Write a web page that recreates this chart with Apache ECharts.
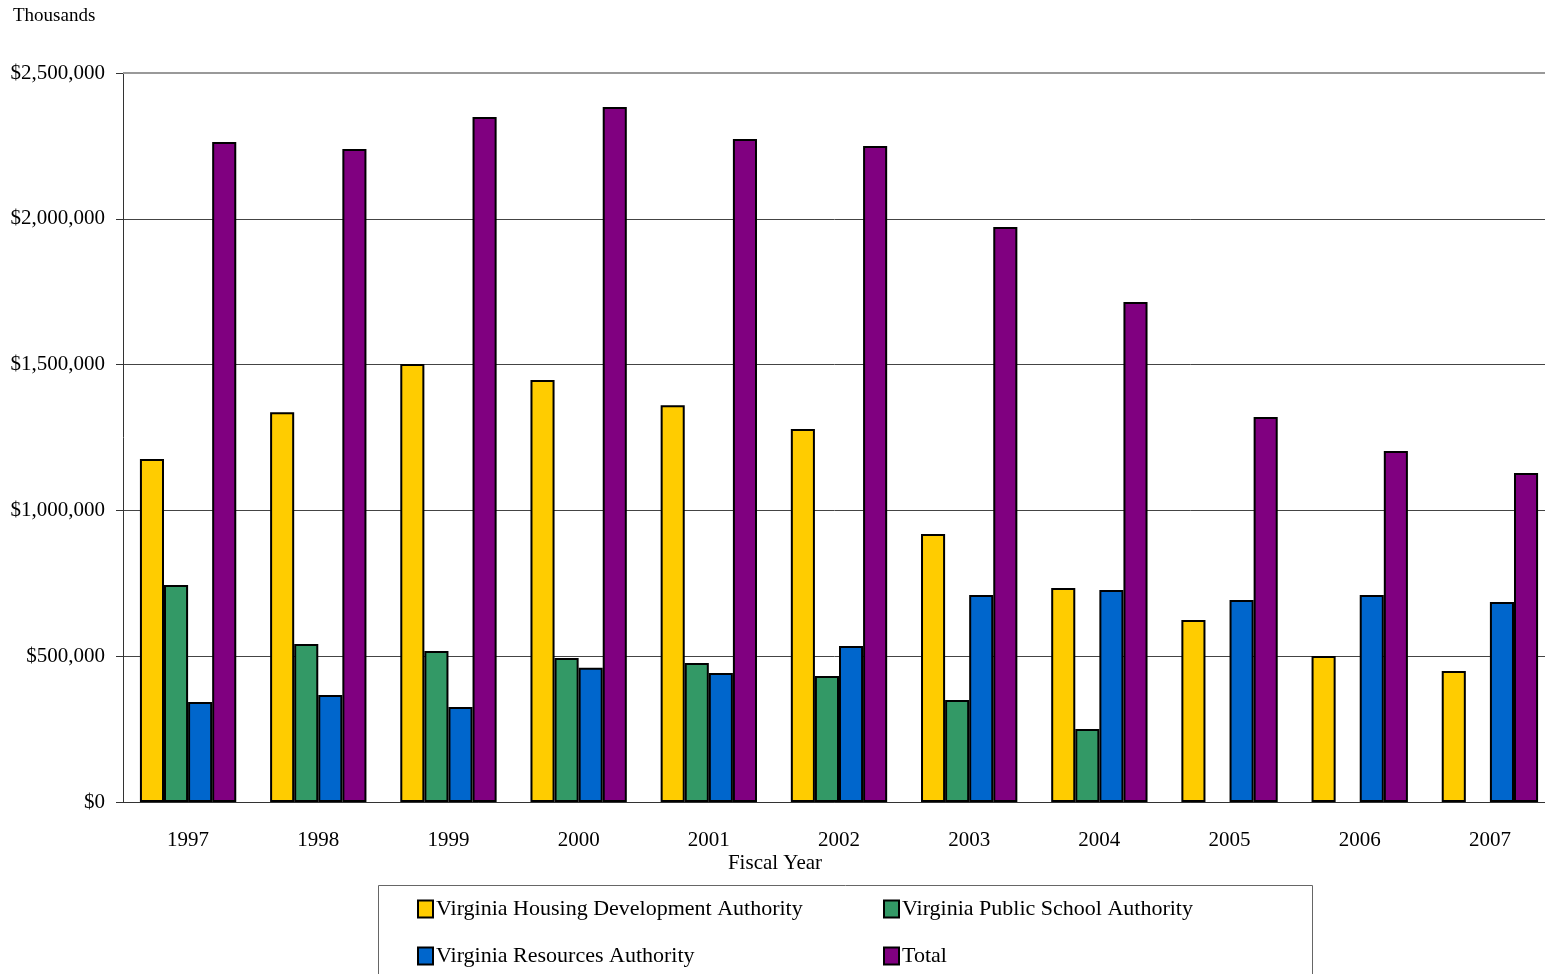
<!DOCTYPE html>
<html>
<head>
<meta charset="utf-8">
<title>Debt issued by Virginia authorities</title>
<script src="https://cdn.jsdelivr.net/npm/echarts@6/dist/echarts.min.js"></script>
<style>
  html, body { margin: 0; padding: 0; background: #fff; }
  #chart { width: 1545px; height: 974px; }
</style>
</head>
<body>
<div id="chart"></div>
<script>
// fiscal years
var years = ['1997', '1998', '1999', '2000', '2001', '2002', '2003', '2004', '2005', '2006', '2007'];
// values in thousands of dollars
var housing = [1176000, 1337000, 1502000, 1447000, 1361000, 1279000, 919000, 734000, 624000, 501000, 449000];
var publicSchool = [744000, 542000, 518000, 494000, 477000, 432000, 350000, 250000, null, null, null];
var resources = [343000, 367000, 326000, 460000, 442000, 535000, 710000, 727000, 693000, 710000, 686000];
var total = [2263000, 2239000, 2349000, 2383000, 2274000, 2250000, 1972000, 1715000, 1320000, 1204000, 1128000];

var seriesNames = ['Virginia Housing Development Authority', 'Virginia Public School Authority',
  'Virginia Resources Authority', 'Total'];
var colors = ['#ffcc00', '#339966', '#0066cc', '#800080'];

var font = 'Liberation Serif, Times New Roman, serif';

function money(v) {
  return '$' + v.toString().replace(/\B(?=(\d{3})+(?!\d))/g, ',');
}

function bar(name, data, i) {
  return {
    name: name,
    type: 'bar',
    data: data,
    barGap: 0,
    barCategoryGap: '26%',
    itemStyle: { color: colors[i], borderColor: '#000', borderWidth: 2 },
    emphasis: { disabled: true }
  };
}

// one legend block per entry, laid out in two columns
function legendItem(name, left, top) {
  return {
    data: [name],
    left: left, top: top,
    icon: 'rect',
    itemWidth: 15, itemHeight: 17, itemGap: 0,
    selectedMode: false,
    textStyle: { fontFamily: font, fontSize: 22, color: '#000', lineHeight: 24, padding: [0, 0, 0, -2] }
  };
}

var myChart = echarts.init(document.getElementById('chart'));
myChart.setOption({
  animation: false,
  textStyle: { fontFamily: font },
  // the plot runs a little past the right edge of the picture
  grid: { left: 123, width: 1432, top: 73, height: 729, outerBoundsMode: 'none' },
  legend: [
    legendItem(seriesNames[0], 412, 892),
    legendItem(seriesNames[2], 412, 939),
    legendItem(seriesNames[1], 878, 892),
    legendItem(seriesNames[3], 878, 939)
  ],
  xAxis: {
    type: 'category',
    data: years,
    axisLine: { lineStyle: { color: '#333', width: 1 } },
    axisTick: { length: 8, lineStyle: { color: '#333' } },
    axisLabel: { color: '#000', fontSize: 21, fontFamily: font, margin: 28 }
  },
  yAxis: {
    type: 'value',
    min: 0, max: 2500000, interval: 500000,
    axisLine: { show: true, lineStyle: { color: '#333' } },
    axisTick: { show: true, length: 7, lineStyle: { color: '#333' } },
    axisLabel: { color: '#000', fontSize: 21, fontFamily: font, margin: 18, formatter: money },
    splitLine: { lineStyle: { color: '#444', width: 1 } }
  },
  graphic: [
    { type: 'text', left: 13, top: 7, style: { text: 'Thousands', font: '19px ' + font, fill: '#000' } },
    { type: 'text', x: 775, y: 863, style: { text: 'Fiscal Year', font: '21px ' + font, fill: '#000', align: 'center', verticalAlign: 'middle' } },
    { type: 'rect', shape: { x: 378.5, y: 885.5, width: 934, height: 100 }, style: { fill: 'none', stroke: '#666', lineWidth: 1 } },
    { type: 'line', z: 100, shape: { x1: 123, y1: 73, x2: 1545, y2: 73 }, style: { stroke: '#999', lineWidth: 2 } }
  ],
  series: [
    bar(seriesNames[0], housing, 0),
    bar(seriesNames[1], publicSchool, 1),
    bar(seriesNames[2], resources, 2),
    bar(seriesNames[3], total, 3)
  ]
});
</script>
</body>
</html>
